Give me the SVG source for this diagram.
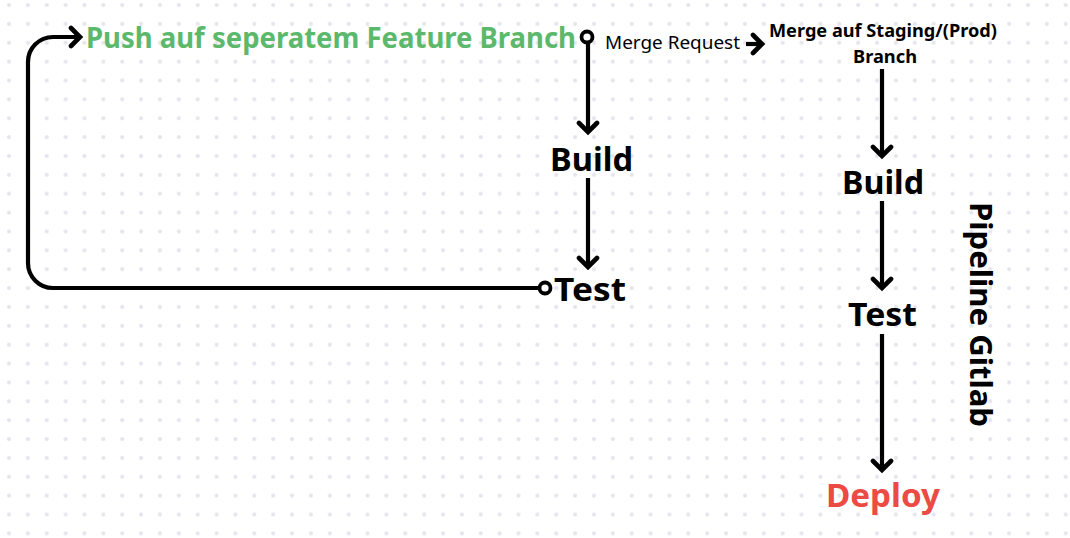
<svg xmlns="http://www.w3.org/2000/svg" width="1070" height="538" viewBox="0 0 1070 538">
<style>
.t{font-family:"Noto Sans","Liberation Sans",sans-serif;font-weight:700;fill:#000}
.n{font-family:"Noto Sans","Liberation Sans",sans-serif;font-weight:400;fill:#000}
.c{fill:none;stroke:#000;stroke-width:4.2}
</style>
<defs>
<pattern id="dots" x="0" y="0" width="18.87" height="18.87" patternUnits="userSpaceOnUse">
<circle cx="9" cy="5" r="2.1" fill="#e5e6ed"/>
</pattern>
<marker id="arr" markerWidth="24" markerHeight="24" refX="13" refY="12" orient="auto" markerUnits="userSpaceOnUse" viewBox="0 0 24 24">
<path d="M4,3 L13,12 L4,21" fill="none" stroke="#000" stroke-width="4.6" stroke-linecap="round" stroke-linejoin="miter"/>
</marker>
</defs>
<rect width="1070" height="538" fill="#fff"/>
<rect width="1070" height="538" fill="url(#dots)"/>

<g id="connectors">
<path class="c" d="M540,288 H53 A25,25 0 0 1 28,263 V62 A25,25 0 0 1 53,37 H80" marker-end="url(#arr)"/>
<path class="c" d="M588,42 V132" marker-end="url(#arr)"/>
<path class="c" d="M588,178 V267" marker-end="url(#arr)"/>
<path class="c" d="M746,44 H762" marker-end="url(#arr)"/>
<path class="c" d="M882,69 V156" marker-end="url(#arr)"/>
<path class="c" d="M882,201 V288" marker-end="url(#arr)"/>
<path class="c" d="M882,334 V470" marker-end="url(#arr)"/>
<circle cx="587" cy="37" r="5.5" fill="#fff" stroke="#000" stroke-width="3.8"/>
<circle cx="545" cy="288" r="5.5" fill="#fff" stroke="#000" stroke-width="3.8"/>
</g>

<g id="push">
<text class="t" x="86" y="48" font-size="28" textLength="490" lengthAdjust="spacingAndGlyphs" style="fill:#5cb96b">Push auf seperatem Feature Branch</text>
</g>
<g id="merge-request">
<text class="n" x="605" y="49" font-size="18" textLength="135" lengthAdjust="spacingAndGlyphs">Merge Request</text>
</g>
<g id="merge-staging">
<text class="t" x="769" y="37" font-size="17" textLength="228" lengthAdjust="spacingAndGlyphs">Merge auf Staging/(Prod)</text>
<text class="t" x="853" y="63" font-size="17" textLength="64" lengthAdjust="spacingAndGlyphs">Branch</text>
</g>
<g id="build-left">
<text class="t" x="550" y="171" font-size="33" textLength="83" lengthAdjust="spacingAndGlyphs">Build</text>
</g>
<g id="test-left">
<text class="t" x="554" y="301" font-size="33" textLength="72" lengthAdjust="spacingAndGlyphs">Test</text>
</g>
<g id="build-right">
<text class="t" x="842" y="194" font-size="33" textLength="82" lengthAdjust="spacingAndGlyphs">Build</text>
</g>
<g id="test-right">
<text class="t" x="848" y="326" font-size="33" textLength="69" lengthAdjust="spacingAndGlyphs">Test</text>
</g>
<g id="deploy">
<text class="t" x="826" y="507" font-size="32" textLength="114" lengthAdjust="spacingAndGlyphs" style="fill:#ec4b43">Deploy</text>
</g>
<g id="pipeline-label">
<text class="t" transform="translate(970,202) rotate(90)" x="0" y="0" font-size="31" textLength="225" lengthAdjust="spacingAndGlyphs">Pipeline Gitlab</text>
</g>
</svg>
